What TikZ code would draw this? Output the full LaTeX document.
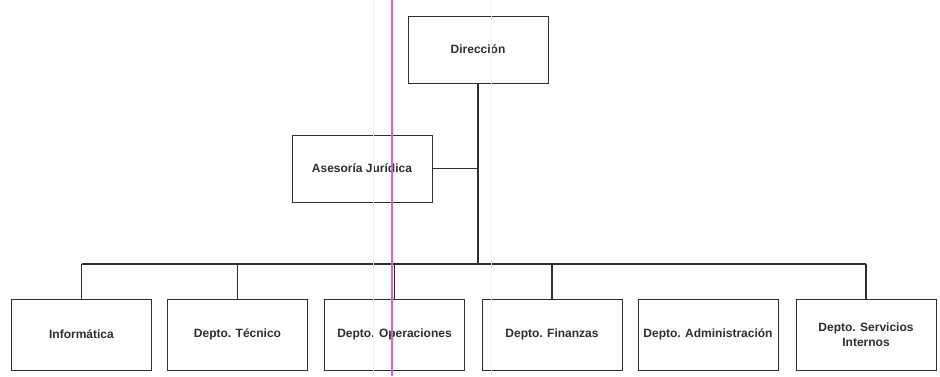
\documentclass[tikz,border=0pt]{standalone}
\usepackage{fontspec}
\setmainfont{Liberation Sans}
\definecolor{ink}{HTML}{2E2E2E}
\definecolor{rulemag}{HTML}{D068D4}
\definecolor{rulecyan}{HTML}{DDF6FA}
\definecolor{rulepink}{HTML}{FAF0F9}
\begin{document}
\begin{tikzpicture}[x=0.75pt,y=-0.75pt,
  unit/.style={draw=ink, line width=0.75pt, minimum width=105pt, text=ink,
    font=\fontsize{9}{11}\selectfont\bfseries, align=center, inner sep=2pt},
  topunit/.style={unit, minimum height=50.25pt},
  deptunit/.style={unit, minimum height=53.25pt},
  link/.style={draw=ink, line width=0.8pt}]
\useasboundingbox (0,0) rectangle (940,376);
\fill[white] (0,0) rectangle (940,376);

% management level
\node[topunit] (dir) at (478,49.5) {Dirección};
\node[topunit] (ases) at (362,168.5) {Asesoría Jurídica};

% departments
\node[deptunit] (inf) at (81.5,334.5) {Informática};
\node[deptunit] (tec) at (237.5,334.5) {Depto. Técnico};
\node[deptunit] (ope) at (394.5,334.5) {Depto. Operaciones};
\node[deptunit] (fin) at (552,334.5) {Depto. Finanzas};
\node[deptunit] (adm) at (708,334.5) {Depto. Administración};
\node[deptunit] (ser) at (866,334.5) {Depto. Servicios\\Internos};

% distribution bus
\coordinate (busM) at (dir.south |- 0,264);
\coordinate (busL) at (inf.north |- busM);
\coordinate (busR) at (ser.north |- busM);

\draw[link] (dir.south) -- (busM);
\draw[link] (ases.east) -- (ases.east -| dir.south);
\draw[link] (busL) -- (busR);
\foreach \d in {inf,tec,ope,fin,ser}
  \draw[link] (\d.north) -- (\d.north |- busM);

% guide lines across the sheet
\draw[rulepink, line width=0.75pt] (491,0) -- (491,376);
\draw[rulecyan, line width=0.75pt] (373,0) -- (373,376);
\draw[rulemag, line width=1.2pt] (392,0) -- (392,376);
\end{tikzpicture}
\end{document}
